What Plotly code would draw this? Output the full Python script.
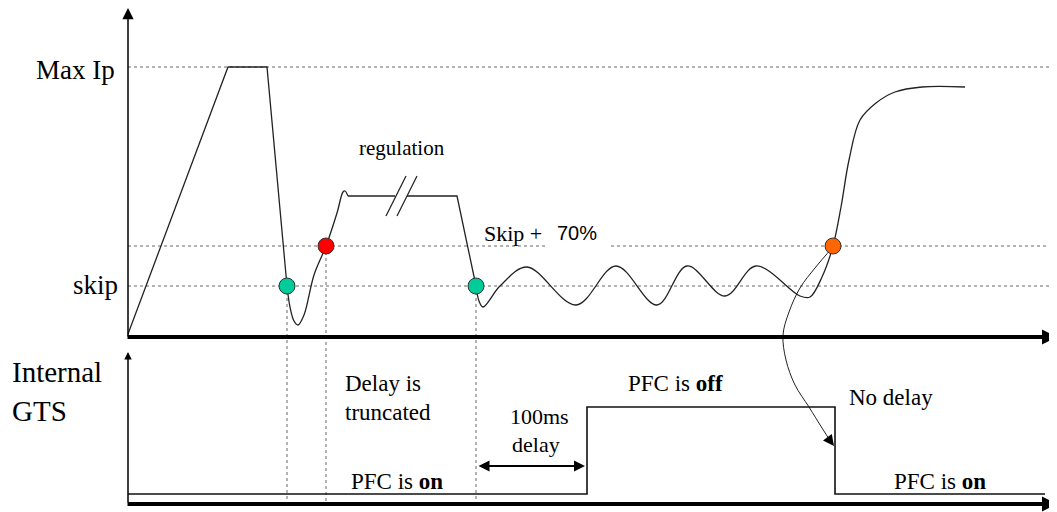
import plotly.graph_objects as go

# ---------------- data (time in arbitrary units from the origin) ----------------
# upper panel: primary current Ip, levels above the upper time axis
MAX_IP = 270
SKIP = 51
SKIP70 = 91

ramp_t = [0, 100, 139, 159]
ramp_ip = [3, 270, 270, 51]

dip_t = [159, 162, 166, 170, 176, 186, 198, 209, 215, 217, 220]
dip_ip = [51, 30, 16, 12, 22, 62, 91, 124, 145, 146, 141]

reg_t = [220, 267, None, 279, 329, 348]
reg_ip = [141, 141, None, 141, 141, 51]

osc_t = [348, 351, 355, 372, 399, 448, 488, 529, 559, 597, 628, 672, 682, 694,
         705, 713, 721, 732, 748, 767, 794, 837]
osc_ip = [51, 36, 30, 51, 70, 32, 71, 32, 71, 41, 71, 41, 40, 60,
          91, 130, 177, 217, 234, 245, 250, 250]

event_t = [159, 198, 348, 705]
event_ip = [51, 91, 51, 91]
event_colors = ["#00CC99", "#FF0000", "#00CC99", "#FF6600"]

# curved pointer from the orange event down to the GTS falling edge
curve_t = [705, 687, 672, 661, 655, 658, 667, 681, 694, 703]
curve_ip = [90, 69, 49, 25, 2, -23, -48, -70, -91, -105]

# lower panel: internal GTS signal, levels above the lower time axis
gts_t = [0, 459, 707, 917]
gts_level = [10, 97, 10, 10]

T_END = 929
UPPER_BASE = 175   # vertical position of the upper time axis
LOWER_BASE = 8     # vertical position of the lower time axis

SERIF = "Liberation Serif"
SANS = "Liberation Sans"
INK = "#222222"
DOT = "#666666"


def up(vals):
    return [None if v is None else v + UPPER_BASE for v in vals]


def low(vals):
    return [None if v is None else v + LOWER_BASE for v in vals]


fig = go.Figure()


def line(x, y, shape="linear", width=1.3, color=INK, dash="solid"):
    fig.add_trace(go.Scatter(x=x, y=y, mode="lines", hoverinfo="skip", showlegend=False,
                             line=dict(color=color, width=width, shape=shape, dash=dash,
                                       smoothing=1.0 if shape == "spline" else None)))


# threshold dotted lines
for lvl, segs in [(MAX_IP, [(0, T_END)]), (SKIP, [(0, T_END)]),
                  (SKIP70, [(0, 417), (483, T_END)])]:
    for a, b in segs:
        line([a, b], up([lvl, lvl]), width=1, color=DOT, dash="dot")

# dotted drop lines from the events to the lower axis
for t, v in zip(event_t[:3], event_ip[:3]):
    line([t, t], [v + UPPER_BASE, LOWER_BASE - 2], width=1, color=DOT, dash="dot")

# Ip waveform
line(ramp_t, up(ramp_ip))
line(dip_t, up(dip_ip), shape="spline")
line(reg_t, up(reg_ip))
line(osc_t, up(osc_ip), shape="spline")

# break marks "//" on the regulation plateau
for x0 in (258, 269):
    line([x0, x0 + 20], up([121, 161]), width=1.2)

# curved pointer
line(curve_t, up(curve_ip), shape="spline", width=1)

# GTS signal
line(gts_t, low(gts_level), shape="hv", width=1.6, color="#111111")

# event markers
fig.add_trace(go.Scatter(x=event_t, y=up(event_ip), mode="markers", hoverinfo="skip",
                         showlegend=False,
                         marker=dict(size=16, color=event_colors,
                                     line=dict(color="#333333", width=1))))


def arrow(x, y, ax, ay, width, size, head=2, both=False, color="black"):
    kw = dict(x=x, y=y, ax=ax, ay=ay, xref="x", yref="y", axref="x", ayref="y",
              text="", showarrow=True, arrowhead=head, arrowsize=size,
              arrowwidth=width, arrowcolor=color, standoff=0, startstandoff=0)
    if both:
        kw.update(arrowside="end+start", startarrowhead=head, startarrowsize=size)
    fig.add_annotation(**kw)


# axes
arrow(0, UPPER_BASE + 329, 0, UPPER_BASE - 1, 1.5, 1.5)          # upper vertical
arrow(T_END, UPPER_BASE, -2, UPPER_BASE, 4, 0.75)                 # upper time axis
arrow(0, LOWER_BASE + 152, 0, LOWER_BASE, 1.5, 1.0)              # lower vertical
arrow(T_END, LOWER_BASE, -2, LOWER_BASE, 4, 0.75)                 # lower time axis
# 100 ms delay double arrow
arrow(457, LOWER_BASE + 38, 349, LOWER_BASE + 38, 2, 1.1, both=True)
# head of the curved pointer
arrow(706, UPPER_BASE - 109, 700, UPPER_BASE - 101, 1, 2.2)


def text(s, x, y, size, font=SERIF, anchor="center", color="black"):
    fig.add_annotation(x=x, y=y, xref="x", yref="y", text=s, showarrow=False,
                       xanchor=anchor, yanchor="middle",
                       font=dict(family=font, size=size, color=color))


text("Max Ip", -11, 442, 27, anchor="right")
text("skip", -8, 227, 27, anchor="right")
text("regulation", 274, 364, 21)
text("Skip +", 385, 279, 22)
text("70%", 449, 279, 20, font=SANS)
text("Internal", -118, 140, 29, anchor="left")
text("GTS", -118, 101, 29, anchor="left")
text("Delay is", 215, 129, 23, anchor="left")
text("truncated", 215, 100, 23, anchor="left")
text("100ms", 411, 96, 22)
text("delay", 408, 68, 22)
text("PFC is <b>off</b>", 547, 129, 23)
text("No delay", 763, 115, 23)
text("PFC is <b>on</b>", 269, 31, 23)
text("PFC is <b>on</b>", 812, 31, 23)

# the page body keeps an 8 px margin, so the figure is 8 px smaller and starts 8 px in
fig.update_layout(
    width=1049, height=504,
    margin=dict(l=0, r=0, t=0, b=0),
    paper_bgcolor="white", plot_bgcolor="white",
    xaxis=dict(visible=False, range=[-120, T_END], fixedrange=True),
    yaxis=dict(visible=False, range=[0, 504], fixedrange=True),
    showlegend=False,
)

fig.write_html("out.html")
